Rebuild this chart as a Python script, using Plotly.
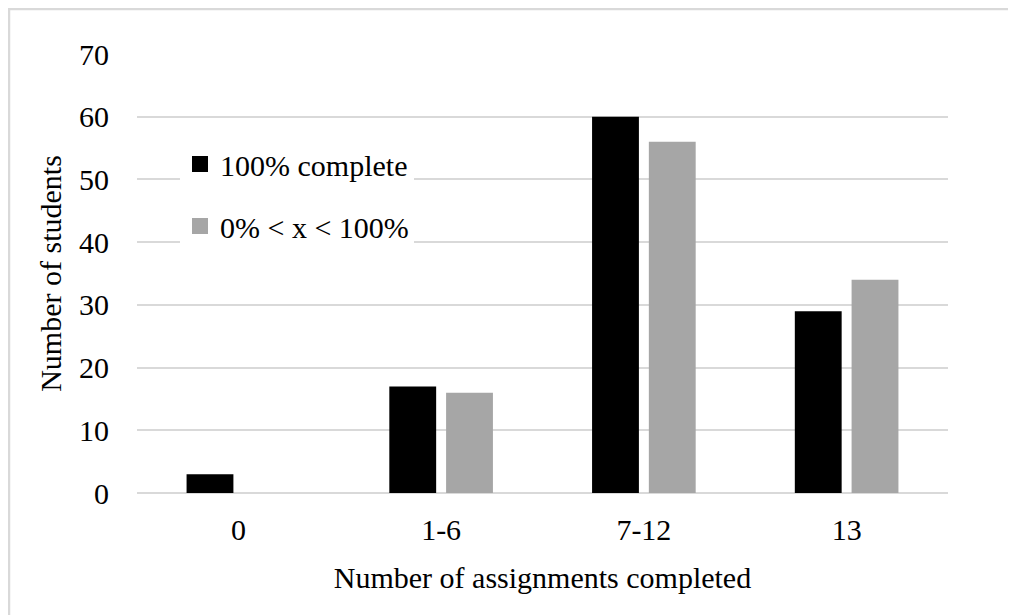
import plotly.graph_objects as go

categories = ["0", "1-6", "7-12", "13"]
complete_100 = [3, 17, 60, 29]
partial = [None, 16, 56, 34]
series_names = ["100% complete", "0% < x < 100%"]
y_ticks = [0, 10, 20, 30, 40, 50, 60, 70]

FONT = "Liberation Serif, Times New Roman, serif"
BLACK = "#000000"
GRAY = "#a6a6a6"
FS = 30

fig = go.Figure()
fig.add_trace(go.Bar(x=categories, y=complete_100, marker=dict(color=BLACK, line=dict(width=0)),
                     showlegend=False, name=series_names[0]))
fig.add_trace(go.Bar(x=categories, y=partial, marker=dict(color=GRAY, line=dict(width=0)),
                     showlegend=False, name=series_names[1]))
# legend entries
fig.add_trace(go.Scatter(x=[None], y=[None], mode="markers", name=series_names[0],
                         marker=dict(symbol="square", size=16, color=BLACK), legendgroup="a"))
fig.add_trace(go.Scatter(x=[None], y=[None], mode="markers", name=series_names[1],
                         marker=dict(symbol="square", size=16, color=GRAY), legendgroup="b"))

# page body has an 8px margin; figure origin is at screen (8, 8)
L, R, T, B = 129, 76, 46, 130
W, H = 1016, 615
pw, ph = W - L - R, H - T - B

fig.update_layout(
    width=W, height=H,
    margin=dict(l=L, r=R, t=T, b=B, pad=0),
    paper_bgcolor="white", plot_bgcolor="white",
    font=dict(family=FONT, size=FS, color="#000000"),
    barmode="group", bargap=0.44, bargroupgap=0.175,
    legend=dict(x=(172 - L) / pw, y=(485 - 130) / ph, xanchor="left", yanchor="top",
                bgcolor="white", font=dict(size=FS, family=FONT), traceorder="grouped",
                tracegroupgap=20, itemsizing="trace"),
    xaxis=dict(title=dict(text="Number of assignments completed", font=dict(size=FS), standoff=21),
               showgrid=False, showline=False, ticks="", tickfont=dict(size=FS),
               ticklabelstandoff=16),
    yaxis=dict(title=dict(text="Number of students", font=dict(size=FS), standoff=8),
               range=[0, 70], tickvals=y_ticks, showgrid=True, gridcolor="#d9d9d9", gridwidth=2,
               zeroline=True, zerolinecolor="#d9d9d9", zerolinewidth=2, showline=False,
               ticks="", tickfont=dict(size=FS), ticklabelstandoff=27),
    shapes=[
        dict(type="line", xref="paper", yref="paper",
             x0=(0 - L) / pw, x1=(W + 10 - L) / pw, y0=(H - B - 1) / ph, y1=(H - B - 1) / ph,
             line=dict(color="#d9d9d9", width=2.5)),
        dict(type="line", xref="paper", yref="paper",
             x0=(1 - L) / pw, x1=(1 - L) / pw, y0=(H - B) / ph, y1=-1,
             line=dict(color="#d9d9d9", width=2.5)),
    ],
)

fig.write_html("out.html")
